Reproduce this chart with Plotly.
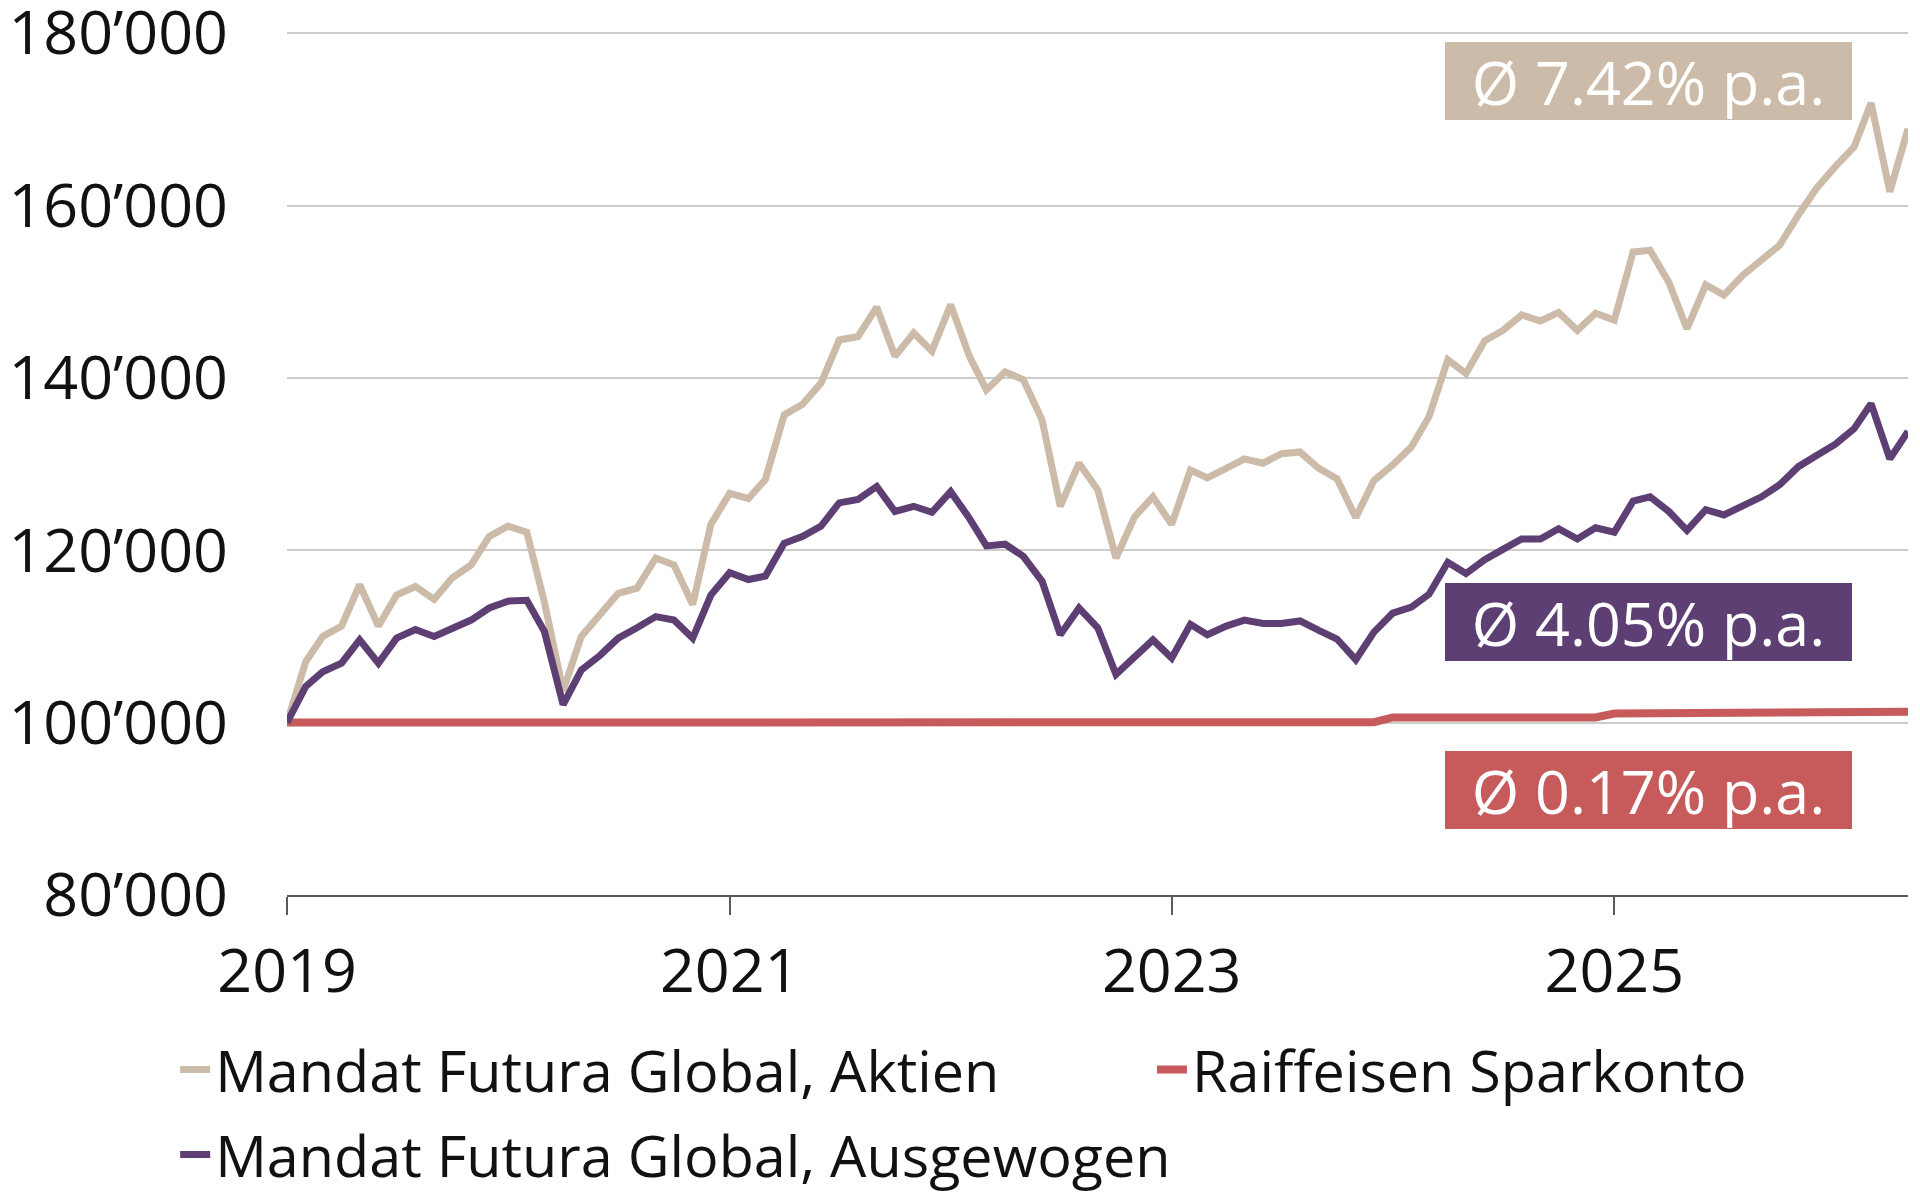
import plotly.graph_objects as go
import pandas as pd

# ---------------- data ----------------
dates = pd.date_range("2019-01-01", periods=89, freq="MS")

aktien = [
    100000, 107100, 110000, 111200, 116000, 111200, 114800, 115800, 114300, 116800,
    118300, 121600, 122800, 122100, 114000, 103700, 110000, 112500, 115000, 115600,
    119100, 118300, 113700, 123000, 126600, 126000, 128200, 135700, 136900, 139400,
    144400, 144800, 148200, 142500, 145200, 143100, 148500, 142500, 138600, 140700,
    139800, 135100, 125100, 130100, 127000, 119100, 123900, 126200, 123000, 129300,
    128400, 129500, 130600, 130100, 131200, 131400, 129500, 128300, 123800, 128100,
    129900, 132000, 135500, 142100, 140500, 144300, 145500, 147300, 146600, 147600,
    145500, 147500, 146700, 154600, 154800, 151100, 145700, 150800, 149600, 151900,
    153600, 155400, 158900, 162000, 164500, 166800, 171900, 161600, 168900,
]

ausgewogen = [
    100000, 104200, 105900, 106900, 109600, 106900, 109800, 110800, 110000, 111000,
    111900, 113300, 114100, 114200, 110600, 102100, 106100, 107800, 109800, 111000,
    112300, 111900, 109800, 114800, 117400, 116600, 117000, 120800, 121600, 122800,
    125500, 125900, 127400, 124500, 125100, 124400, 126800, 123700, 120500, 120700,
    119300, 116400, 110200, 113300, 111000, 105600, 107500, 109600, 107500, 111400,
    110200, 111200, 111900, 111500, 111500, 111800, 110700, 109700, 107300, 110500,
    112700, 113400, 114900, 118600, 117300, 118900, 120100, 121300, 121300, 122500,
    121300, 122600, 122100, 125700, 126200, 124500, 122300, 124700, 124100, 125200,
    126200, 127600, 129700, 131000, 132300, 134100, 137000, 130600, 133800,
]

sparkonto = [
    100000, 100000, 100000, 100000, 100000, 100000, 100000, 100000, 100000, 100000,
    100000, 100000, 100010, 100010, 100010, 100010, 100010, 100010, 100010, 100010,
    100010, 100010, 100010, 100010, 100020, 100020, 100020, 100020, 100020, 100020,
    100020, 100020, 100020, 100020, 100020, 100020, 100030, 100030, 100030, 100030,
    100030, 100030, 100030, 100030, 100030, 100030, 100030, 100030, 100050, 100050,
    100050, 100050, 100050, 100050, 100050, 100050, 100050, 100050, 100050, 100050,
    100600, 100600, 100600, 100600, 100600, 100600, 100600, 100600, 100600, 100600,
    100600, 100600, 101050, 101050, 101050, 101050, 101050, 101050, 101050, 101050,
    101050, 101050, 101050, 101050, 101250, 101250, 101250, 101250, 101250,
]

series_names = [
    "Mandat Futura Global, Aktien",
    "Raiffeisen Sparkonto",
    "Mandat Futura Global, Ausgewogen",
]
return_labels = ["Ø 7.42% p.a.", "Ø 4.05% p.a.", "Ø 0.17% p.a."]

y_tickvals = [80000, 100000, 120000, 140000, 160000, 180000]
y_ticktext = ["80’000", "100’000", "120’000", "140’000", "160’000", "180’000"]
x_tickvals = ["2019-01-01", "2021-01-01", "2023-01-01", "2025-01-01"]
x_ticktext = ["2019", "2021", "2023", "2025"]

# ---------------- styles ----------------
BEIGE = "#CBBBA8"
PURPLE = "#5E3F74"
RED = "#C75B5B"
FONT = "Open Sans"
FS_LEG = 57.5
FS_NUM = 61

fig = go.Figure()
fig.add_trace(go.Scatter(x=dates, y=sparkonto, name=series_names[1], mode="lines",
                         line=dict(color=RED, width=8), legend="legend2"))
fig.add_trace(go.Scatter(x=dates, y=aktien, name=series_names[0], mode="lines",
                         line=dict(color=BEIGE, width=7), legend="legend"))
fig.add_trace(go.Scatter(x=dates, y=ausgewogen, name=series_names[2], mode="lines",
                         line=dict(color=PURPLE, width=7), legend="legend3"))

ann_y = [174450, 111700, 92200]
ann_col = [BEIGE, PURPLE, RED]
for lbl, yy, col in zip(return_labels, ann_y, ann_col):
    fig.add_annotation(
        x=0.8397, xref="paper", y=yy, yref="y",
        xanchor="center", yanchor="middle",
        text=lbl, showarrow=False,
        font=dict(family=FONT, size=FS_NUM, color="white"),
        bgcolor=col, width=407, height=78, borderpad=0, borderwidth=0,
        align="center", valign="middle",
    )

legend_common = dict(
    orientation="h", xanchor="left", yanchor="top",
    font=dict(family=FONT, size=FS_LEG, color="#111111"),
    itemwidth=30, bgcolor="rgba(0,0,0,0)",
)

fig.update_layout(
    width=1920, height=1200,
    margin=dict(l=287, r=12, t=32, b=305, autoexpand=False),
    paper_bgcolor="white", plot_bgcolor="white",
    font=dict(family=FONT, size=FS_LEG, color="#111111"),
    showlegend=True,
    legend=dict(x=-0.069, y=-0.1513, **legend_common),
    legend2=dict(x=0.5336, y=-0.1513, **legend_common),
    legend3=dict(x=-0.069, y=-0.2499, **legend_common),
)

fig.update_xaxes(
    type="date", range=["2019-01-01", "2026-05-01"],
    tickvals=x_tickvals, ticktext=x_ticktext,
    showgrid=False, showline=True, linecolor="#5a5a5a", linewidth=2,
    ticks="outside", ticklen=18, tickwidth=1.5, tickcolor="#5a5a5a",
    ticklabelstandoff=4,
    tickfont=dict(family=FONT, size=FS_NUM, color="#111111"),
    zeroline=False,
)
fig.update_yaxes(
    range=[80000, 180130],
    tickvals=y_tickvals, ticktext=y_ticktext,
    showgrid=True, gridcolor="#cccccc", gridwidth=2,
    showline=False, zeroline=False, ticks="",
    ticklabelstandoff=58, ticklabeloverflow="allow",
    tickfont=dict(family=FONT, size=FS_NUM, color="#111111"),
)

fig.write_html("out.html")
